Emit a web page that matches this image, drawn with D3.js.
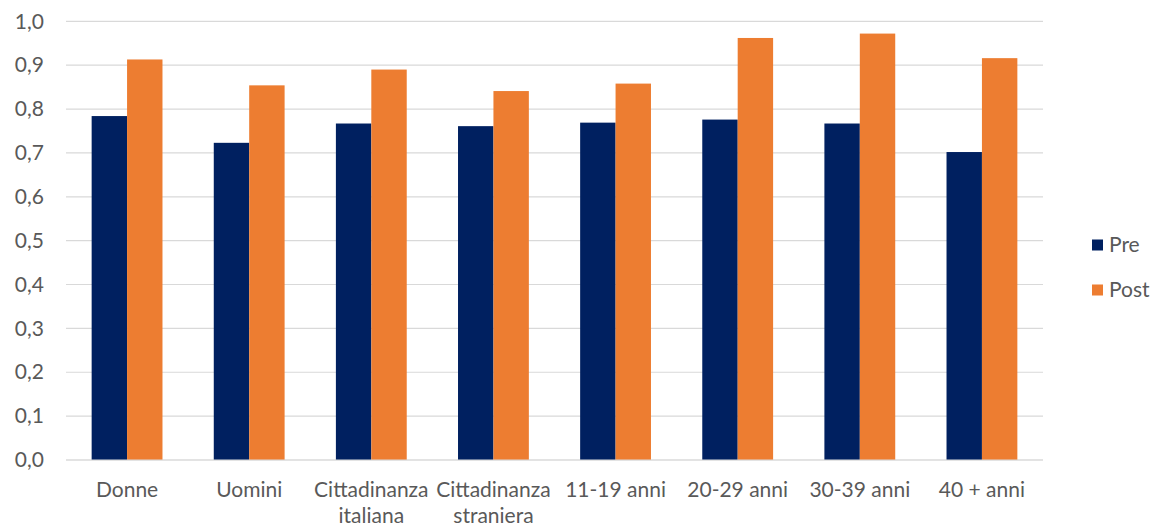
<!DOCTYPE html>
<html>
<head>
<meta charset="utf-8">
<script src="https://cdn.jsdelivr.net/npm/d3@7"></script>
<style>
  html, body { margin: 0; padding: 0; background: #fff; }
  svg text { font-family: Lato, "Open Sans", sans-serif; fill: #595959; }
</style>
</head>
<body>
<svg id="chart" width="1155" height="528"></svg>
<script>
const categories = ["Donne", "Uomini", "Cittadinanza italiana", "Cittadinanza straniera", "11-19 anni", "20-29 anni", "30-39 anni", "40 + anni"];
const seriesNames = ["Pre", "Post"];
const preValues = [0.784, 0.723, 0.767, 0.761, 0.769, 0.776, 0.767, 0.702];
const postValues = [0.913, 0.854, 0.890, 0.841, 0.858, 0.962, 0.972, 0.916];
const seriesColors = ["#002060", "#ED7D31"];
const yTicks = [0, 0.1, 0.2, 0.3, 0.4, 0.5, 0.6, 0.7, 0.8, 0.9, 1.0];

(function() {
const svg = d3.select("#chart");
const mLeft = 66, mRight = 1043, mTop = 21.3, mBottom = 460;
const fontSize = "21px";

const x0 = d3.scaleBand().domain(categories).range([mLeft, mRight]).paddingInner(0.42).paddingOuter(0.21);
const x1 = d3.scaleBand().domain(seriesNames).range([0, x0.bandwidth()]).padding(0);
const y = d3.scaleLinear().domain([0, 1]).range([mBottom, mTop]);

// gridlines
svg.append("g").selectAll("line").data(yTicks).join("line")
  .attr("x1", mLeft).attr("x2", mRight)
  .attr("y1", d => y(d)).attr("y2", d => y(d))
  .attr("stroke", "#d9d9d9").attr("stroke-width", 1.2);

// y axis labels
const yAxis = d3.axisLeft(y).tickValues(yTicks).tickSize(0).tickPadding(0)
  .tickFormat(d => d3.format(".1f")(d).replace(".", ","));
const yg = svg.append("g").attr("transform", `translate(44,0)`).call(yAxis);
yg.select(".domain").remove();
yg.selectAll("text").style("font-size", fontSize).style("font-family", "Lato, sans-serif").attr("fill", "#595959");

// bars
const data = categories.map((c, i) => ({ cat: c, vals: [preValues[i], postValues[i]] }));
const groups = svg.append("g").selectAll("g").data(data).join("g")
  .attr("transform", d => `translate(${x0(d.cat)},0)`);
groups.selectAll("rect").data(d => d.vals.map((v, j) => ({ s: seriesNames[j], v, c: seriesColors[j] })))
  .join("rect")
  .attr("x", d => x1(d.s))
  .attr("width", x1.bandwidth())
  .attr("y", d => y(d.v))
  .attr("height", d => y(0) - y(d.v))
  .attr("fill", d => d.c);

// baseline
svg.append("line").attr("x1", mLeft).attr("x2", mRight).attr("y1", y(0)).attr("y2", y(0))
  .attr("stroke", "#d9d9d9").attr("stroke-width", 1.2);

// x axis labels with wrapping
const xAxis = d3.axisBottom(x0).tickSize(0).tickPadding(0);
const xg = svg.append("g").attr("transform", `translate(0,490)`).call(xAxis);
xg.select(".domain").remove();
xg.selectAll("text").style("font-size", fontSize).style("font-family", "Lato, sans-serif").attr("fill", "#595959")
  .attr("y", 0).attr("dy", "0.35em")
  .each(function(d) {
    const t = d3.select(this);
    const words = d.split(" ");
    const maxW = x0.step() + 2;
    t.text(d);
    if (this.getComputedTextLength() > maxW && words.length > 1) {
      t.text(null);
      t.append("tspan").attr("x", 0).attr("dy", "0.35em").text(words[0]);
      t.append("tspan").attr("x", 0).attr("dy", "1.24em").text(words.slice(1).join(" "));
      t.attr("dy", null);
    }
  });

// legend
const legend = svg.append("g");
const legendY = [245, 290];
seriesNames.forEach((s, i) => {
  legend.append("rect").attr("x", 1092).attr("y", legendY[i] - 5.5).attr("width", 11).attr("height", 11).attr("fill", seriesColors[i]);
  legend.append("text").attr("x", 1109).attr("y", legendY[i]).attr("dy", "0.35em")
    .style("font-size", fontSize).text(s);
});
})();
</script>
</body>
</html>
